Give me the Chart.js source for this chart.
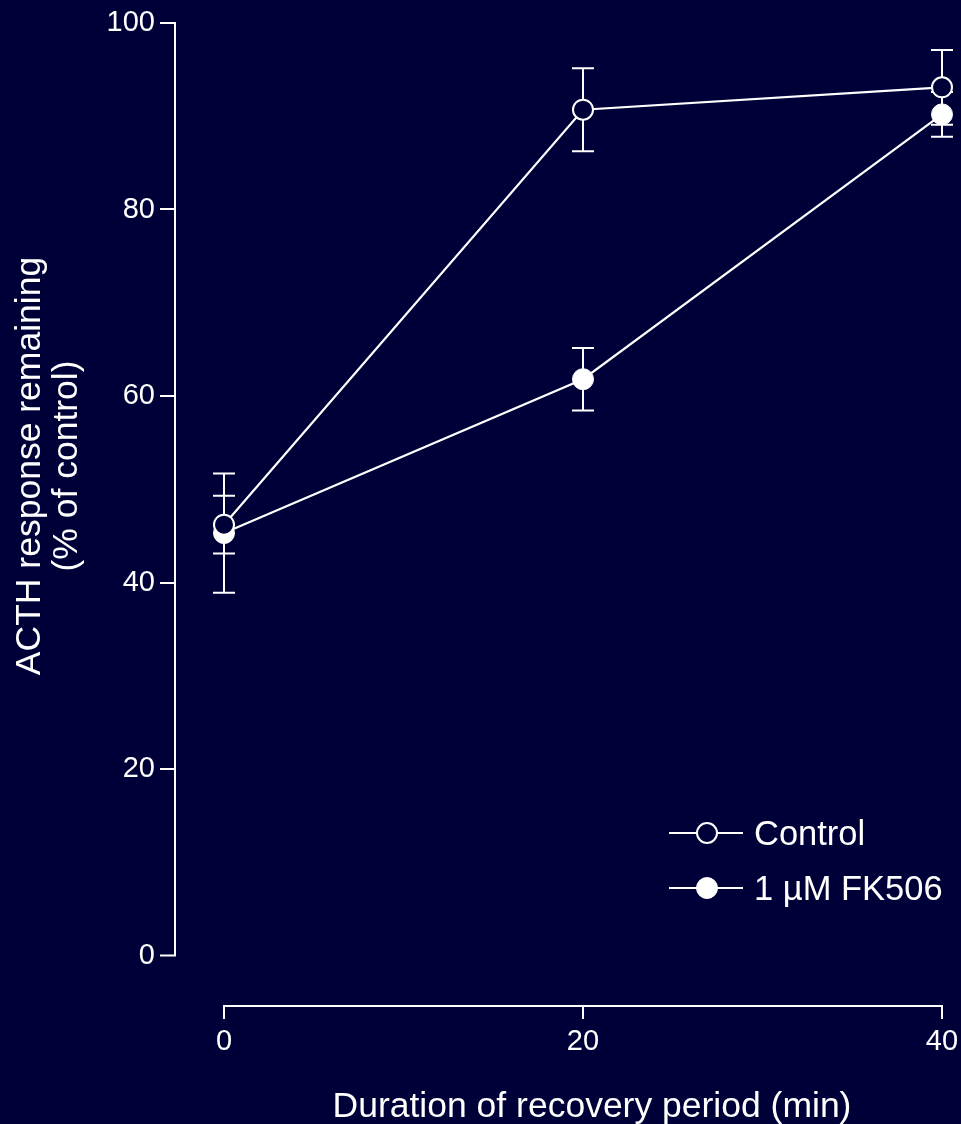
<!DOCTYPE html>
<html>
<head>
<meta charset="utf-8">
<title>ACTH response recovery</title>
<script src="https://cdn.jsdelivr.net/npm/chart.js@4.4.1/dist/chart.umd.min.js"></script>
<style>
  html, body { margin: 0; padding: 0; background: #000038; }
  #wrap { width: 961px; height: 1124px; }
</style>
</head>
<body>
<div id="wrap"><canvas id="chart" width="961" height="1124"></canvas></div>
<script>
// Recovery time points (min)
const recoveryMinutes = [0, 20, 40];

// ACTH response remaining, % of control (mean and SEM)
const controlMean = [46.2, 90.7, 93.1];
const controlSem  = [3.1, 4.45, 4.0];
const fk506Mean   = [45.3, 61.8, 90.2];
const fk506Sem    = [6.4, 3.35, 2.4];

// Axis ticks
const xTickValues = [0, 20, 40];
const yTickValues = [0, 20, 40, 60, 80, 100];

const seriesLabels = ['Control', '1 \u00B5M FK506'];
const axisTitleX = 'Duration of recovery period (min)';
const axisTitleY = ['ACTH response remaining', '(% of control)'];

const BG = '#000038';
const FG = '#ffffff';
const FONT = '"Liberation Sans", Arial, Helvetica, sans-serif';

// Draws the background, the detached axes, error bars, axis titles and the key
const framePlugin = {
  id: 'frame',
  beforeDraw(chart) {
    const ctx = chart.ctx;
    ctx.save();
    ctx.fillStyle = BG;
    ctx.fillRect(0, 0, chart.width, chart.height);
    ctx.restore();
  },
  beforeDatasetsDraw(chart) {
    const ctx = chart.ctx;
    const xs = chart.scales.x, ys = chart.scales.y;
    const area = chart.chartArea;
    ctx.save();
    ctx.strokeStyle = FG;
    ctx.lineWidth = 2;
    ctx.lineJoin = 'miter';
    ctx.lineCap = 'butt';

    // y axis, set off to the left of the plotting area
    const ax = Math.round(area.left - 49);
    const yTop = ys.getPixelForValue(yTickValues[yTickValues.length - 1]);
    const yBot = ys.getPixelForValue(yTickValues[0]);
    ctx.beginPath();
    ctx.moveTo(ax - 15, yTop);
    ctx.lineTo(ax, yTop);
    ctx.lineTo(ax, yBot);
    ctx.lineTo(ax - 15, yBot);
    for (let i = 1; i < yTickValues.length - 1; i++) {
      const py = Math.round(ys.getPixelForValue(yTickValues[i]));
      ctx.moveTo(ax - 15, py);
      ctx.lineTo(ax, py);
    }
    ctx.stroke();

    // x axis, set off below the plotting area
    const ay = Math.round(area.bottom + 50);
    const xL = xs.getPixelForValue(xTickValues[0]);
    const xR = xs.getPixelForValue(xTickValues[xTickValues.length - 1]);
    ctx.beginPath();
    ctx.moveTo(xL, ay + 13);
    ctx.lineTo(xL, ay);
    ctx.lineTo(xR, ay);
    ctx.lineTo(xR, ay + 13);
    for (let i = 1; i < xTickValues.length - 1; i++) {
      const px = Math.round(xs.getPixelForValue(xTickValues[i]));
      ctx.moveTo(px, ay);
      ctx.lineTo(px, ay + 13);
    }
    ctx.stroke();

    // SEM error bars, drawn underneath the markers
    chart.data.datasets.forEach((ds) => {
      ds.data.forEach((pt, j) => {
        const e = ds.errors[j];
        const px = xs.getPixelForValue(pt.x);
        const top = ys.getPixelForValue(pt.y + e);
        const bot = ys.getPixelForValue(pt.y - e);
        ctx.beginPath();
        ctx.moveTo(px, top);
        ctx.lineTo(px, bot);
        ctx.moveTo(px - 11, top);
        ctx.lineTo(px + 11, top);
        ctx.moveTo(px - 11, bot);
        ctx.lineTo(px + 11, bot);
        ctx.stroke();
      });
    });
    ctx.restore();
  },
  afterDraw(chart) {
    const ctx = chart.ctx;
    const xs = chart.scales.x;
    ctx.save();
    ctx.fillStyle = FG;
    ctx.font = '35.5px ' + FONT;
    ctx.textBaseline = 'alphabetic';
    ctx.textAlign = 'center';

    // x axis title
    const cx = (xs.getPixelForValue(xTickValues[0]) + xs.getPixelForValue(xTickValues[xTickValues.length - 1])) / 2;
    ctx.fillText(axisTitleX, cx + 9, 1117);

    // y axis title (two lines, rotated)
    ctx.save();
    ctx.translate(0, 466);
    ctx.rotate(-Math.PI / 2);
    ctx.fillText(axisTitleY[0], 0, 40);
    ctx.fillText(axisTitleY[1], 0, 77);
    ctx.restore();

    // key
    ctx.font = '34.5px ' + FONT;
    ctx.textAlign = 'left';
    chart.data.datasets.forEach((ds, i) => {
      const ly = 833 + i * 55;
      ctx.strokeStyle = ds.borderColor;
      ctx.lineWidth = 2;
      ctx.beginPath();
      ctx.moveTo(669, ly);
      ctx.lineTo(743, ly);
      ctx.stroke();
      ctx.beginPath();
      ctx.arc(707, ly, ds.pointRadius, 0, Math.PI * 2);
      ctx.fillStyle = ds.pointBackgroundColor;
      ctx.fill();
      ctx.lineWidth = ds.pointBorderWidth;
      ctx.strokeStyle = ds.pointBorderColor;
      ctx.stroke();
      ctx.fillStyle = FG;
      ctx.fillText(ds.label, 754, ly + 12);
    });
    ctx.restore();
  }
};

const toPoints = (ys) => recoveryMinutes.map((x, i) => ({ x, y: ys[i] }));

new Chart(document.getElementById('chart'), {
  type: 'line',
  data: {
    datasets: [
      {
        label: seriesLabels[0],
        data: toPoints(controlMean),
        errors: controlSem,
        borderColor: FG,
        borderWidth: 2.2,
        pointRadius: 10,
        pointHoverRadius: 10,
        pointBorderWidth: 2,
        pointBorderColor: FG,
        pointBackgroundColor: BG,
        tension: 0,
        clip: false
      },
      {
        label: seriesLabels[1],
        data: toPoints(fk506Mean),
        errors: fk506Sem,
        borderColor: FG,
        borderWidth: 2.2,
        pointRadius: 10.5,
        pointHoverRadius: 10.5,
        pointBorderWidth: 1,
        pointBorderColor: FG,
        pointBackgroundColor: FG,
        tension: 0,
        clip: false
      }
    ]
  },
  options: {
    responsive: false,
    animation: false,
    events: [],
    layout: { padding: { top: 23, right: 19, left: 0, bottom: 0 } },
    plugins: {
      legend: { display: false },
      tooltip: { enabled: false },
      title: { display: false }
    },
    scales: {
      x: {
        type: 'linear',
        min: xTickValues[0],
        max: xTickValues[xTickValues.length - 1],
        afterBuildTicks: (s) => { s.ticks = xTickValues.map(v => ({ value: v })); },
        afterFit: (s) => { s.height = 168.5; s.paddingLeft = 0; s.paddingRight = 0; },
        grid: { display: false, drawTicks: false },
        border: { display: false },
        ticks: {
          color: FG,
          padding: 69,
          maxRotation: 0,
          font: { family: FONT, size: 29 }
        }
      },
      y: {
        type: 'linear',
        min: yTickValues[0],
        max: yTickValues[yTickValues.length - 1],
        afterBuildTicks: (s) => { s.ticks = yTickValues.map(v => ({ value: v })); },
        afterFit: (s) => { s.width = 224; s.paddingTop = 0; s.paddingBottom = 0; },
        grid: { display: false, drawTicks: false },
        border: { display: false },
        ticks: {
          color: FG,
          padding: 69,
          font: { family: FONT, size: 29 }
        }
      }
    }
  },
  plugins: [framePlugin]
});
</script>
</body>
</html>
